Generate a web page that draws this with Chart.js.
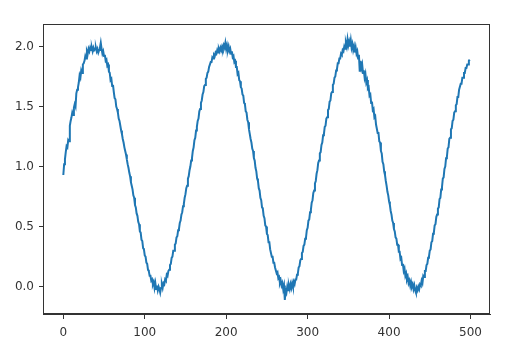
<!DOCTYPE html>
<html>
<head>
<meta charset="utf-8">
<script src="https://cdn.jsdelivr.net/npm/chart.js@4.4.0/dist/chart.umd.min.js"></script>
<style>
  html, body { margin: 0; padding: 0; background: #fff; }
  #wrap { width: 515px; height: 351px; }
</style>
</head>
<body>
<div id="wrap"><canvas id="signalChart" width="515" height="351"></canvas></div>
<script>
// signal samples, one per x step (0..499)
const signal = [
  0.93, 1.02, 1.06, 1.12, 1.17, 1.16, 1.22, 1.21, 1.34, 1.38,
  1.41, 1.45, 1.43, 1.49, 1.52, 1.50, 1.61, 1.64, 1.66, 1.70,
  1.76, 1.74, 1.80, 1.78, 1.85, 1.86, 1.88, 1.92, 1.90, 1.96,
  1.94, 1.98, 1.96, 1.99, 1.97, 1.99, 1.96, 1.99, 1.97, 1.98,
  1.99, 1.96, 1.98, 1.95, 1.97, 1.99, 2.03, 1.98, 1.94, 1.96,
  1.92, 1.93, 1.88, 1.89, 1.84, 1.85, 1.79, 1.78, 1.72, 1.73,
  1.67, 1.68, 1.62, 1.57, 1.56, 1.50, 1.48, 1.45, 1.40, 1.38,
  1.34, 1.30, 1.27, 1.23, 1.20, 1.16, 1.13, 1.10, 1.06, 1.02,
  0.99, 0.95, 0.92, 0.87, 0.84, 0.81, 0.76, 0.74, 0.68, 0.66,
  0.61, 0.59, 0.54, 0.52, 0.46, 0.45, 0.39, 0.38, 0.32, 0.31,
  0.26, 0.25, 0.20, 0.19, 0.14, 0.13, 0.09, 0.09, 0.05, 0.06,
  0.02, 0.04, -0.01, 0.03, -0.02, 0.01, -0.03, 0.00, -0.02, -0.05,
  -0.01, 0.02, -0.01, 0.03, 0.02, 0.06, 0.05, 0.10, 0.09, 0.13,
  0.14, 0.18, 0.19, 0.24, 0.25, 0.30, 0.30, 0.35, 0.36, 0.41,
  0.42, 0.47, 0.48, 0.53, 0.55, 0.60, 0.62, 0.67, 0.69, 0.74,
  0.77, 0.82, 0.84, 0.90, 0.92, 0.97, 1.00, 1.05, 1.07, 1.13,
  1.16, 1.22, 1.24, 1.30, 1.33, 1.38, 1.40, 1.46, 1.48, 1.53,
  1.55, 1.60, 1.62, 1.67, 1.68, 1.73, 1.74, 1.78, 1.79, 1.83,
  1.83, 1.87, 1.87, 1.91, 1.90, 1.93, 1.92, 1.95, 1.94, 1.97,
  1.95, 1.98, 1.96, 1.99, 1.97, 2.00, 1.98, 2.01, 1.99, 2.03,
  1.98, 2.01, 1.97, 2.00, 1.96, 1.98, 1.94, 1.96, 1.91, 1.92,
  1.87, 1.88, 1.83, 1.83, 1.77, 1.78, 1.72, 1.71, 1.66, 1.65,
  1.60, 1.59, 1.53, 1.52, 1.46, 1.45, 1.39, 1.37, 1.31, 1.27,
  1.23, 1.20, 1.15, 1.13, 1.07, 1.05, 0.99, 0.96, 0.90, 0.88,
  0.82, 0.80, 0.74, 0.72, 0.66, 0.65, 0.59, 0.57, 0.51, 0.50,
  0.44, 0.43, 0.37, 0.37, 0.31, 0.31, 0.25, 0.25, 0.20, 0.20,
  0.16, 0.16, 0.11, 0.12, 0.07, 0.08, 0.03, 0.05, 0.01, 0.03,
  -0.02, 0.01, -0.11, -0.03, -0.05, 0.00, -0.03, 0.01, -0.02, 0.02,
  -0.01, 0.03, 0.00, 0.04, 0.02, 0.06, 0.06, 0.10, 0.11, 0.16,
  0.17, 0.22, 0.23, 0.28, 0.29, 0.34, 0.35, 0.40, 0.41, 0.47,
  0.49, 0.55, 0.56, 0.62, 0.64, 0.70, 0.72, 0.78, 0.80, 0.86,
  0.88, 0.94, 0.97, 1.03, 1.05, 1.11, 1.12, 1.18, 1.20, 1.26,
  1.27, 1.33, 1.34, 1.40, 1.41, 1.47, 1.48, 1.54, 1.55, 1.61,
  1.62, 1.68, 1.69, 1.74, 1.75, 1.80, 1.81, 1.86, 1.86, 1.90,
  1.90, 1.94, 1.93, 1.97, 1.96, 2.00, 1.98, 2.03, 2.00, 2.06,
  2.01, 2.04, 2.00, 2.05, 1.99, 2.02, 1.97, 2.00, 1.95, 1.99,
  1.94, 1.96, 1.90, 1.93, 1.79, 1.88, 1.82, 1.85, 1.78, 1.80,
  1.74, 1.77, 1.70, 1.72, 1.65, 1.66, 1.59, 1.60, 1.53, 1.54,
  1.47, 1.48, 1.41, 1.42, 1.35, 1.35, 1.28, 1.28, 1.21, 1.20,
  1.13, 1.11, 1.04, 1.02, 0.96, 0.93, 0.88, 0.84, 0.79, 0.76,
  0.71, 0.68, 0.63, 0.60, 0.55, 0.53, 0.48, 0.46, 0.41, 0.40,
  0.35, 0.35, 0.29, 0.29, 0.23, 0.24, 0.18, 0.19, 0.13, 0.15,
  0.09, 0.11, 0.06, 0.08, 0.03, 0.05, 0.01, 0.04, 0.00, 0.02,
  -0.02, 0.01, -0.03, -0.05, -0.01, -0.03, 0.00, -0.02, 0.02, 0.01,
  0.05, 0.03, 0.09, 0.08, 0.13, 0.13, 0.18, 0.19, 0.24, 0.25,
  0.30, 0.31, 0.37, 0.38, 0.44, 0.45, 0.51, 0.52, 0.58, 0.60,
  0.65, 0.66, 0.73, 0.74, 0.81, 0.83, 0.90, 0.91, 0.98, 1.00,
  1.07, 1.08, 1.15, 1.16, 1.23, 1.24, 1.31, 1.32, 1.38, 1.39,
  1.45, 1.46, 1.51, 1.52, 1.58, 1.58, 1.64, 1.64, 1.69, 1.69,
  1.74, 1.74, 1.78, 1.78, 1.82, 1.82, 1.85, 1.85, 1.88, 1.89
];
const sampleIndex = signal.map((_, i) => i);

const xTicks = [0, 100, 200, 300, 400, 500];
const yTicks = [0.0, 0.5, 1.0, 1.5, 2.0];

const frameColor = '#333333';

// matplotlib-like box around the plot area
const framePlugin = {
    id: 'frame',
    afterDraw(chart) {
        const a = chart.chartArea;
        const ctx = chart.ctx;
        ctx.save();
        ctx.strokeStyle = frameColor;
        ctx.lineWidth = 1;
        ctx.strokeRect(a.left + 0.5, a.top + 0.5, a.right - a.left - 1, a.bottom - a.top - 1);
        ctx.restore();
    }
};

const whiteBg = {
    id: 'whiteBg',
    beforeDraw(chart) {
        const ctx = chart.ctx;
        ctx.save();
        ctx.fillStyle = '#ffffff';
        ctx.fillRect(0, 0, chart.width, chart.height);
        ctx.restore();
    }
};

const signalChart = new Chart(document.getElementById('signalChart'), {
    type: 'line',
    data: {
        datasets: [{
            data: sampleIndex.map((x, i) => ({ x: x, y: signal[i] })),
            borderColor: '#1f77b4',
            borderWidth: 2,
            pointRadius: 0,
            tension: 0,
            fill: false
        }]
    },
    options: {
        responsive: false,
        animation: false,
        devicePixelRatio: 1,
        layout: {
            padding: { left: 0, top: 24, right: 25, bottom: 0 }
        },
        scales: {
            x: {
                type: 'linear',
                min: -24.95,
                max: 523.95,
                afterBuildTicks: function(scale) {
                    scale.ticks = xTicks.map(v => ({ value: v }));
                },
                afterFit: function(scale) {
                    scale.height = 37;
                },
                grid: {
                    drawOnChartArea: false,
                    drawTicks: true,
                    tickLength: 5,
                    color: frameColor
                },
                border: { display: true, color: frameColor },
                ticks: {
                    color: '#333',
                    padding: 7,
                    maxRotation: 0,
                    font: { family: 'DejaVu Sans', size: 12 },
                    callback: function(value) {
                        return String(value);
                    }
                }
            },
            y: {
                type: 'linear',
                min: -0.2275,
                max: 2.187,
                afterBuildTicks: function(scale) {
                    scale.ticks = yTicks.map(v => ({ value: v }));
                },
                afterFit: function(scale) {
                    scale.width = 43;
                },
                grid: {
                    drawOnChartArea: false,
                    drawTicks: true,
                    tickLength: 4,
                    color: frameColor
                },
                border: { display: true, color: frameColor },
                ticks: {
                    color: '#333',
                    padding: 5,
                    font: { family: 'DejaVu Sans', size: 12 },
                    callback: function(value) {
                        return value.toFixed(1);
                    }
                }
            }
        },
        plugins: {
            legend: { display: false },
            tooltip: { enabled: false }
        }
    },
    plugins: [whiteBg, framePlugin]
});
</script>
</body>
</html>
